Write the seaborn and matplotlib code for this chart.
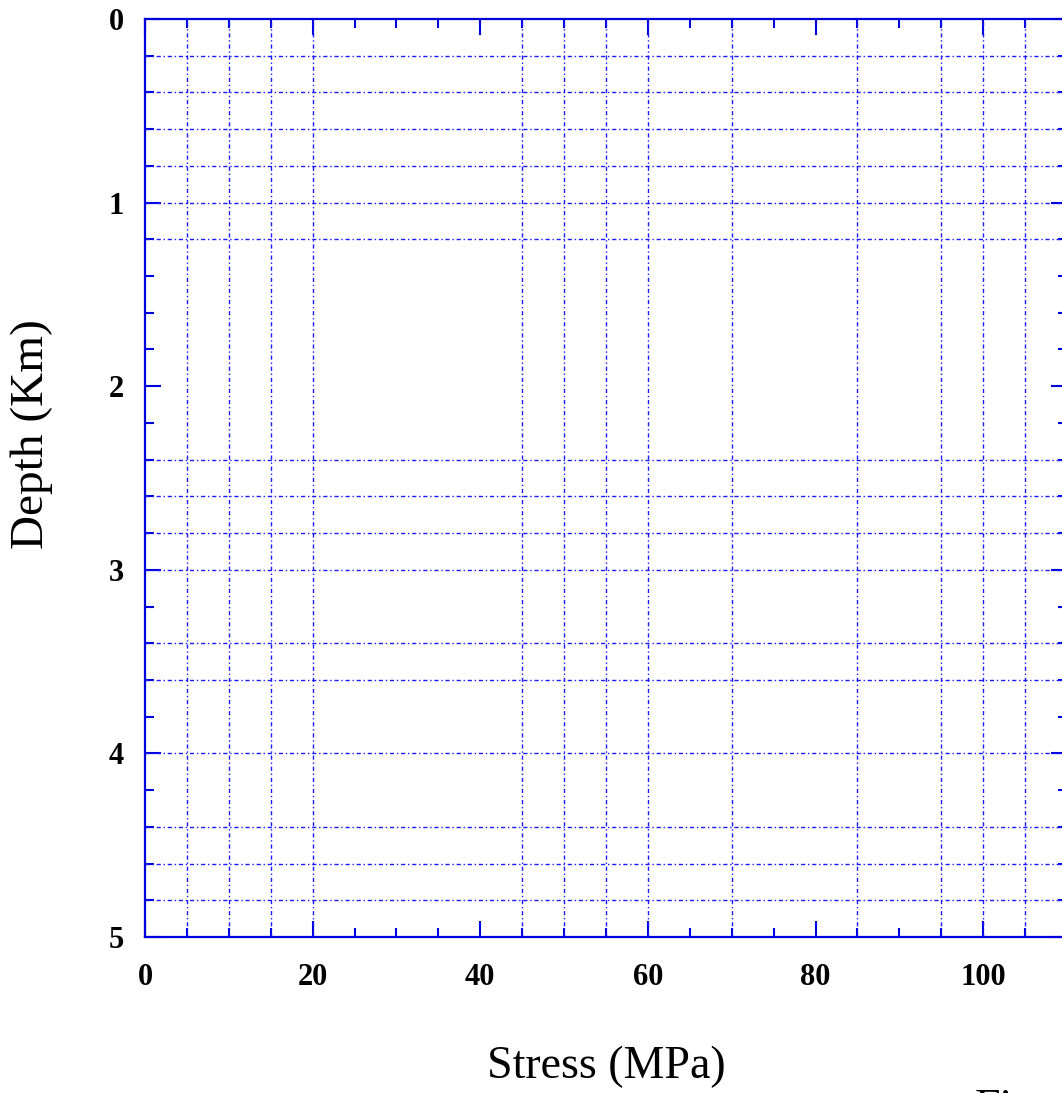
import matplotlib
matplotlib.use("Agg")
import matplotlib.pyplot as plt
import seaborn as sns
from matplotlib.ticker import MultipleLocator

# ---------- chart values ----------
x_major_ticks = [0, 20, 40, 60, 80, 100]
y_major_ticks = [0, 1, 2, 3, 4, 5]
x_grid = [5, 10, 15, 20, 45, 50, 55, 60, 70, 85, 95, 100, 105]
y_grid = [0.2, 0.4, 0.6, 0.8, 1.0, 1.2, 2.4, 2.6, 2.8, 3.0, 3.4, 3.6, 4.0, 4.4, 4.6, 4.8]
x_limits = [0, 110]
y_limits = [0, 5]

sns.set_style("white")
plt.rcParams["font.family"] = ["Liberation Serif", "DejaVu Serif"]
plt.rcParams["text.color"] = "black"
plt.rcParams["axes.labelcolor"] = "black"

blue = "#0000dd"
grid_blue = "#1a1aff"
grid_ls = (0, (3, 2, 1, 2))

fig = plt.figure(figsize=(10.62, 10.93), dpi=100)
ax = fig.add_axes([145 / 1062, (1093 - 937) / 1093, 922 / 1062, 918 / 1093])

# grid lines (only where the original has them)
for xv in x_grid:
    ax.axvline(xv, color=grid_blue, lw=1.0, ls=grid_ls, zorder=1)
for yv in y_grid:
    ax.axhline(yv, color=grid_blue, lw=1.0, ls=grid_ls, zorder=1)

ax.set_xlim(x_limits)
ax.set_ylim(y_limits[1], y_limits[0])
ax.set_xticks(x_major_ticks)
ax.set_yticks(y_major_ticks)
ax.xaxis.set_minor_locator(MultipleLocator(5))
ax.yaxis.set_minor_locator(MultipleLocator(0.2))

for sp in ax.spines.values():
    sp.set_color(blue)
    sp.set_linewidth(1.6)
    sp.set_visible(True)

ax.tick_params(which="both", direction="in", top=True, right=True, bottom=True, left=True,
               color=blue, width=1.5, labelcolor="black")
ax.tick_params(which="major", length=11.5)
ax.tick_params(which="minor", length=6.5)
ax.tick_params(axis="x", which="major", pad=19, labelsize=22)
ax.tick_params(axis="y", which="major", pad=15, labelsize=22)
for lab in ax.get_xticklabels() + ax.get_yticklabels():
    lab.set_fontweight("bold")

ax.set_xlabel("Stress (MPa)", fontsize=33, color="black")
ax.set_ylabel("Depth (Km)", fontsize=34, color="black")
ax.xaxis.set_label_coords(0.5, -0.118)
ax.yaxis.set_label_coords(-0.100, 0.548)

# caption that is cut off at the lower edge, as in the original
fig.text(975 / 1062, 0.004, "Figure", fontsize=33, ha="left", va="top", color="black")

fig.savefig("out.png", dpi=100)
